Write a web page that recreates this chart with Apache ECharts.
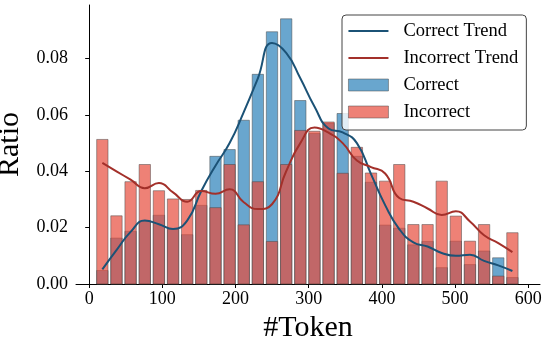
<!DOCTYPE html>
<html>
<head>
<meta charset="utf-8">
<script src="https://cdn.jsdelivr.net/npm/echarts@6/dist/echarts.min.js"></script>
<style>
	html, body { margin: 0; padding: 0; background: #fff; }
	#main { width: 548px; height: 343px; }
</style>
</head>
<body>
<div id="main"></div>
<script>
	// histogram bin centres (#Token)
	var binCenters = [18.0, 37.3, 56.6, 76.0, 95.3, 114.6, 133.9, 153.2, 172.6, 191.9,
		211.2, 230.5, 249.8, 269.2, 288.5, 307.8, 327.1, 346.4, 365.8, 385.1,
		404.4, 423.7, 443.0, 462.4, 481.7, 501.0, 520.3, 539.6, 559.0, 578.3];
	// ratio per bin
	var correctRatio = [0.0048, 0.0163, 0.0187, 0.0224, 0.0244, 0.0194, 0.0175, 0.0279, 0.0453, 0.0477,
		0.0581, 0.0744, 0.0895, 0.0941, 0.0651, 0.0534, 0.0570, 0.0605, 0.0453, 0.0361,
		0.0209, 0.0198, 0.0139, 0.0151, 0.0058, 0.0152, 0.0069, 0.0117, 0.0093, 0.0023];
	var incorrectRatio = [0.0513, 0.0242, 0.0363, 0.0424, 0.0331, 0.0302, 0.0300, 0.0332, 0.0271, 0.0424,
		0.0210, 0.0363, 0.0151, 0.0424, 0.0545, 0.0542, 0.0575, 0.0393, 0.0485, 0.0394,
		0.0365, 0.0424, 0.0211, 0.0211, 0.0365, 0.0241, 0.0152, 0.0211, 0.0028, 0.0182];
	// smoothed trend lines
	var correctTrend = [0.0052, 0.0120, 0.0185, 0.0225, 0.0212, 0.0195, 0.0225, 0.0330, 0.0420, 0.0500,
		0.0610, 0.0730, 0.0855, 0.0820, 0.0730, 0.0630, 0.0552, 0.0538, 0.0500, 0.0390,
		0.0280, 0.0195, 0.0148, 0.0133, 0.0110, 0.0100, 0.0104, 0.0082, 0.0066, 0.0046];
	var incorrectTrend = [0.0430, 0.0400, 0.0370, 0.0340, 0.0358, 0.0325, 0.0292, 0.0330, 0.0320, 0.0336,
		0.0290, 0.0266, 0.0283, 0.0400, 0.0500, 0.0555, 0.0537, 0.0500, 0.0438, 0.0415,
		0.0392, 0.0305, 0.0292, 0.0268, 0.0245, 0.0258, 0.0222, 0.0173, 0.0145, 0.0113];
	var xTicks = [0, 100, 200, 300, 400, 500, 600];
	var yTicks = [0, 0.02, 0.04, 0.06, 0.08];

	var BAR_W = 15.5; // 0.8 of bin width
	var FONT = 'Liberation Serif';

	function pairs(xs, ys) {
		return xs.map(function (x, i) { return [x, ys[i]]; });
	}

	function barRender(fill) {
		return function (params, api) {
			var x = api.value(0), y = api.value(1);
			var p0 = api.coord([x - BAR_W / 2, y]);
			var p1 = api.coord([x + BAR_W / 2, 0]);
			return {
				type: 'rect',
				shape: { x: p0[0], y: p0[1], width: p1[0] - p0[0], height: p1[1] - p0[1] },
				style: { fill: fill, stroke: 'rgba(70,70,70,0.55)', lineWidth: 0.9 }
			};
		};
	}

	var blueFill = 'rgba(41,128,185,0.7)';
	var redFill = 'rgba(231,76,60,0.7)';
	var blueLine = '#1b5276';
	var redLine = '#a3302a';

	var chart = echarts.init(document.getElementById('main'));
	chart.setOption({
		animation: false,
		grid: { left: 76, right: 8, top: 5, bottom: 59, containLabel: false, outerBoundsMode: 'none' },
		legend: {
			left: 342, top: 15,
			orient: 'vertical',
			padding: [6, 8, 8, 6],
			itemGap: 7,
			itemWidth: 40, itemHeight: 12,
			backgroundColor: 'rgba(255,255,255,0.8)',
			borderColor: '#444', borderWidth: 1, borderRadius: 4,
			textStyle: { fontFamily: FONT, fontSize: 18.5, color: '#000', lineHeight: 20, padding: [0, 0, 0, 10] },
			data: [
				{ name: 'Correct Trend', icon: 'path://M0,0H40V2H0Z', itemStyle: { color: blueLine } },
				{ name: 'Incorrect Trend', icon: 'path://M0,0H40V2H0Z', itemStyle: { color: redLine } },
				{ name: 'Correct', icon: 'rect', itemStyle: { color: blueFill, borderColor: 'rgba(70,70,70,0.55)', borderWidth: 0.9 } },
				{ name: 'Incorrect', icon: 'rect', itemStyle: { color: redFill, borderColor: 'rgba(70,70,70,0.55)', borderWidth: 0.9 } }
			]
		},
		xAxis: {
			type: 'value',
			min: -18, max: 616,
			name: '#Token', nameLocation: 'middle', nameGap: 20,
			nameTextStyle: { fontFamily: FONT, fontSize: 30, color: '#000' },
			splitLine: { show: false },
			axisLine: { lineStyle: { color: '#000', width: 1 } },
			axisTick: { customValues: xTicks, length: 4, lineStyle: { color: '#000' } },
			axisLabel: { customValues: xTicks, margin: 6, fontFamily: FONT, fontSize: 18, color: '#000' }
		},
		yAxis: {
			type: 'value',
			min: 0, max: 0.099,
			name: 'Ratio', nameLocation: 'middle', nameGap: 39, nameRotate: 90,
			nameTextStyle: { fontFamily: FONT, fontSize: 30, color: '#000' },
			splitLine: { show: false },
			axisLine: { show: true, lineStyle: { color: '#000', width: 1 } },
			axisTick: { show: true, customValues: yTicks, length: 4, lineStyle: { color: '#000' } },
			axisLabel: {
				customValues: yTicks,
				margin: 8, fontFamily: FONT, fontSize: 18, color: '#000',
				formatter: function (v) { return v.toFixed(2); }
			}
		},
		series: [
			{
				name: 'Correct', type: 'custom', renderItem: barRender(blueFill),
				itemStyle: { color: blueFill }, data: pairs(binCenters, correctRatio), z: 2
			},
			{
				name: 'Incorrect', type: 'custom', renderItem: barRender(redFill),
				itemStyle: { color: redFill }, data: pairs(binCenters, incorrectRatio), z: 3
			},
			{
				name: 'Correct Trend', type: 'line', smooth: true, showSymbol: false, symbol: 'none',
				lineStyle: { color: blueLine, width: 2 }, itemStyle: { color: blueLine },
				data: pairs(binCenters, correctTrend), z: 4
			},
			{
				name: 'Incorrect Trend', type: 'line', smooth: true, showSymbol: false, symbol: 'none',
				lineStyle: { color: redLine, width: 2 }, itemStyle: { color: redLine },
				data: pairs(binCenters, incorrectTrend), z: 5
			}
		]
	});
</script>
</body>
</html>
